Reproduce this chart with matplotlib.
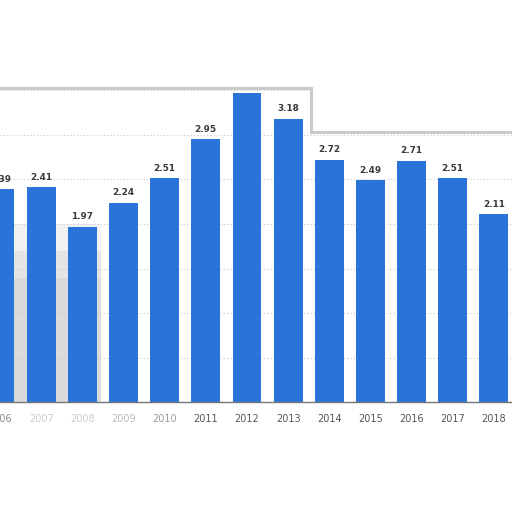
import matplotlib
matplotlib.use("Agg")
from matplotlib import pyplot as plt
from matplotlib.patches import Polygon, Rectangle

# years shown (2006 and 2018 are partially cropped in the reference)
years = [2006, 2007, 2008, 2009, 2010, 2011, 2012, 2013, 2014, 2015, 2016, 2017, 2018]
values = [2.39, 2.41, 1.97, 2.24, 2.51, 2.95, 3.47, 3.18, 2.72, 2.49, 2.71, 2.51, 2.11]
labels = ["2.39", "2.41", "1.97", "2.24", "2.51", "2.95", "3.47", "3.18", "2.72", "2.49", "2.71", "2.51", "2.11"]

bar_color = "#2a74d9"

fig = plt.figure(figsize=(5.12, 5.12), dpi=100)
ax = fig.add_axes([0, 0.214, 1, 0.786])

ax.bar(years, values, width=0.7, color=bar_color, zorder=3)

for x, v, t in zip(years, values, labels):
    ax.text(x, v + 0.06, t, ha="center", va="bottom", fontsize=6.4,
            fontweight="bold", color="#3a3a3a", zorder=4)

ax.set_xlim(2006.13, 2018.44)
ax.set_ylim(0, 4.51)
ax.set_yticks([0.5 * i for i in range(1, 9)])
ax.yaxis.grid(True, linestyle=(0, (1, 2)), color="#c8c8c8", linewidth=0.8, zorder=1)
ax.tick_params(axis="y", left=False, labelleft=False)
ax.set_xticks(years)
ax.set_xticklabels([str(y) for y in years])
ax.tick_params(axis="x", length=0, labelsize=7, labelcolor="#555555", pad=8)
# the first few year labels are washed out in the reference
for lab, c in zip(ax.get_xticklabels()[:5], ["#888888", "#cccccc", "#cccccc", "#bbbbbb", "#999999"]):
    lab.set_color(c)

for s in ["top", "left", "right"]:
    ax.spines[s].set_visible(False)
ax.spines["bottom"].set_color("#777777")
ax.spines["bottom"].set_linewidth(1.0)
ax.spines["bottom"].set_zorder(5)

# soft grey smudge behind the first bars
for h, a in [(2.0, 0.25), (1.7, 0.3), (1.4, 0.35)]:
    ax.add_patch(Rectangle((2005.5, 0), 2.95, h, facecolor="#c8c8c8",
                           edgecolor="none", alpha=a, zorder=0.5))

# white area above the blurred overlay, with its grey rim
top = 5.0
step_x = 2013.55
mask = Polygon([(2005.5, 3.52), (step_x, 3.52), (step_x, 3.03), (2019.0, 3.03),
                (2019.0, top), (2005.5, top)],
               closed=True, facecolor="white", edgecolor="none", zorder=6)
ax.add_patch(mask)
rim = Polygon([(2005.5, 3.52), (step_x, 3.52), (step_x, 3.03), (2019.0, 3.03)],
              closed=False, fill=False, edgecolor="#c4c4c4", linewidth=2.2,
              alpha=0.9, zorder=7)
ax.add_patch(rim)

fig.savefig("out.png", dpi=100)
